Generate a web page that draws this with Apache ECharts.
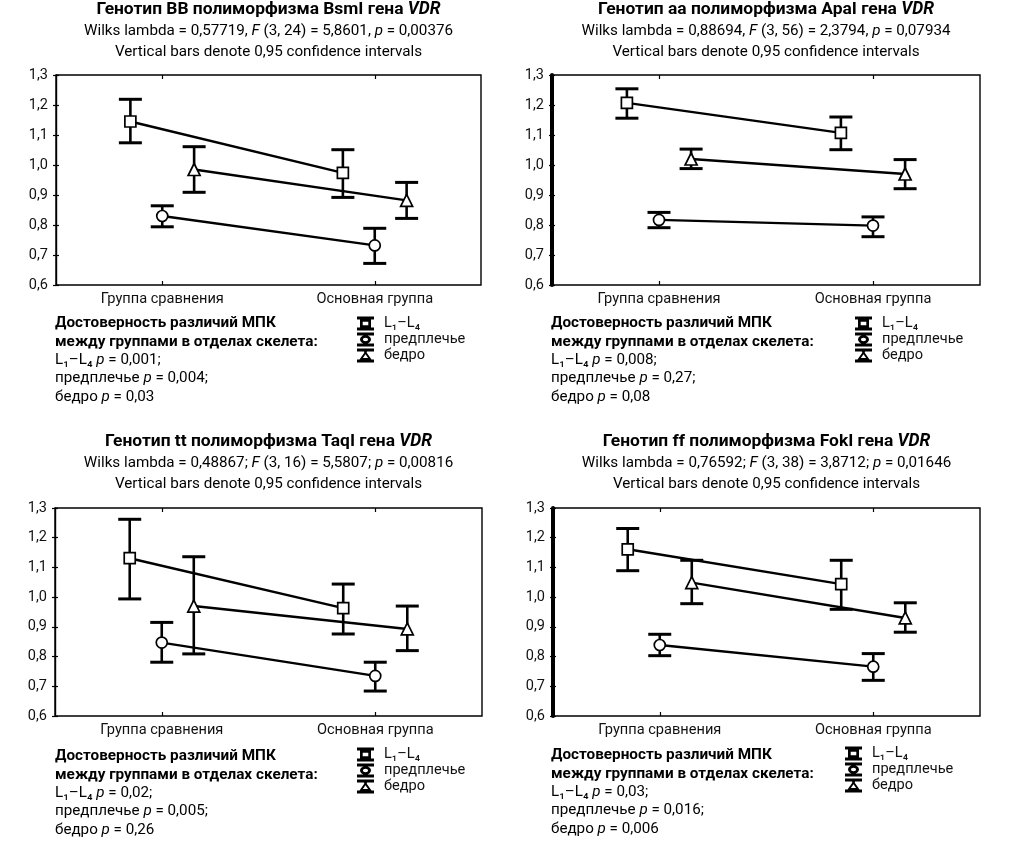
<!DOCTYPE html>
<html>
<head>
<meta charset="utf-8">
<script src="https://cdn.jsdelivr.net/npm/echarts@6/dist/echarts.min.js"></script>
<style>
html,body{margin:0;padding:0;background:#fff;}
#chart{width:1024px;height:843px;}
</style>
</head>
<body>
<div id="chart"></div>
<script>
// ---------- data ----------
const categories = ['Группа сравнения', 'Основная группа'];
const seriesNames = ['L₁–L₄', 'предплечье', 'бедро'];
const yTickLabels = ['0,6', '0,7', '0,8', '0,9', '1,0', '1,1', '1,2', '1,3'];

// order inside each array: [L1–L4, предплечье, бедро], each [Группа сравнения, Основная группа]
const bsmMeans = [[1.145, 0.974], [0.830, 0.732], [0.985, 0.882]];
const bsmLower = [[1.074, 0.892], [0.794, 0.672], [0.909, 0.822]];
const bsmUpper = [[1.219, 1.051], [0.864, 0.789], [1.061, 0.942]];

const apaMeans = [[1.207, 1.107], [0.817, 0.798], [1.020, 0.970]];
const apaLower = [[1.156, 1.051], [0.791, 0.761], [0.988, 0.921]];
const apaUpper = [[1.254, 1.160], [0.842, 0.827], [1.053, 1.018]];

const taqMeans = [[1.131, 0.963], [0.847, 0.735], [0.970, 0.893]];
const taqLower = [[0.994, 0.876], [0.781, 0.684], [0.809, 0.820]];
const taqUpper = [[1.262, 1.044], [0.915, 0.781], [1.136, 0.970]];

const fokMeans = [[1.161, 1.044], [0.839, 0.766], [1.049, 0.930]];
const fokLower = [[1.089, 0.959], [0.803, 0.720], [0.978, 0.882]];
const fokUpper = [[1.231, 1.124], [0.875, 0.810], [1.124, 0.981]];

const titleGenotype = ['BB', 'aa', 'tt', 'ff'];
const titlePolymorphism = ['BsmI', 'ApaI', 'TaqI', 'FokI'];
const wilksLambda = ['0,57719', '0,88694', '0,48867', '0,76592'];
const fDegrees = ['(3, 24)', '(3, 56)', '(3, 16)', '(3, 38)'];
const fValues = ['5,8601', '2,3794', '5,5807', '3,8712'];
const pValues = ['0,00376', '0,07934', '0,00816', '0,01646'];
const statSeparator = [',', ',', ';', ';'];
const pL1L4 = ['0,001;', '0,008;', '0,02;', '0,03;'];
const pForearm = ['0,004;', '0,27;', '0,005;', '0,016;'];
const pHip = ['0,03', '0,08', '0,26', '0,006'];

// ---------- layout ----------
const FONT = 'Roboto, "Noto Sans", sans-serif';
const panels = [
  {means: bsmMeans, lower: bsmLower, upper: bsmUpper, grid: {left: 56, top: 75, width: 425, height: 210}, thickRight: false, titleY: 10, notesX: 55, notesY: 323, legend: {left: 357, top: 316}},
  {means: apaMeans, lower: apaLower, upper: apaUpper, grid: {left: 552, top: 75, width: 428, height: 210}, thickRight: true, titleY: 10, notesX: 551, notesY: 323, legend: {left: 855, top: 316}},
  {means: taqMeans, lower: taqLower, upper: taqUpper, grid: {left: 55, top: 508, width: 427, height: 208}, thickRight: false, titleY: 442, notesX: 55, notesY: 756, legend: {left: 357, top: 747}},
  {means: fokMeans, lower: fokLower, upper: fokUpper, grid: {left: 553, top: 508, width: 427, height: 208}, thickRight: true, titleY: 442, notesX: 551, notesY: 755, legend: {left: 845, top: 746}}
];
const catPos = [1, 3];          // category positions on the hidden 0..4 x scale
const seriesOffset = [-0.3, 0, 0.3];
const symbols = ['rect', 'circle', 'triangle'];
const symbolSizes = [11, 11, 12];

const iconCaps = 'M0.5 0H17.5V3H0.5Z M0.5 11H17.5V14H0.5Z M7.6 3H10.4V4H7.6Z M7.6 10H10.4V11H7.6Z ';
const iconSquare = 'path://' + iconCaps + 'M3.5 3H14.5V11H3.5Z M6.2 5.2V8.8H11.8V5.2Z';
const iconCircle = 'path://' + iconCaps + 'M3.5 7A5.5 4.2 0 1 1 14.5 7A5.5 4.2 0 1 1 3.5 7Z M6.4 7A2.6 1.8 0 1 0 11.6 7A2.6 1.8 0 1 0 6.4 7Z';
const iconTriangle = 'path://' + iconCaps + 'M9 2.6L15 11H3Z M9 5.8L6.4 9.4H11.6Z';
const icons = [iconSquare, iconCircle, iconTriangle];

const grids = [], xAxes = [], yAxes = [], series = [], legends = [], graphics = [];

panels.forEach((p, i) => {
  grids.push(Object.assign({show: true, borderColor: '#000', borderWidth: 1.4, backgroundColor: 'transparent'}, p.grid));
  const xBase = {
    gridIndex: i, type: 'value', min: 0, max: 4,
    axisLine: {show: false}, splitLine: {show: false},
    axisTick: {show: true, inside: true, length: 4, customValues: catPos, lineStyle: {color: '#000', width: 1.2}}
  };
  xAxes.push(Object.assign({}, xBase, {
    position: 'bottom',
    axisLabel: {show: true, customValues: catPos, margin: 7, fontSize: 14.6, color: '#111', fontFamily: FONT,
      formatter: v => { const k = catPos.indexOf(Math.round(v)); return k >= 0 ? categories[k] : ''; }}
  }));
  xAxes.push(Object.assign({}, xBase, {position: 'top', axisLabel: {show: false}}));
  const yBase = {
    gridIndex: i, type: 'value', min: 0.6, max: 1.3, interval: 0.1,
    splitLine: {show: false},
    axisTick: {show: true, inside: true, length: 3, lineStyle: {color: '#000', width: 1.2}}
  };
  yAxes.push(Object.assign({}, yBase, {
    position: 'left', axisLine: {show: false},
    axisLabel: {margin: 8, fontSize: 14.5, color: '#111', fontFamily: FONT,
      formatter: v => yTickLabels[Math.round((v - 0.6) * 10)]}
  }));
  yAxes.push(Object.assign({}, yBase, {
    position: 'right', axisLabel: {show: false},
    axisLine: {show: true, lineStyle: {color: '#000', width: p.thickRight ? 4 : 1.4}}
  }));

  for (let s = 0; s < 3; s++) {
    const errData = catPos.map((c, g) => [c + seriesOffset[s], p.lower[s][g], p.upper[s][g]]);
    series.push({
      type: 'custom', xAxisIndex: 2 * i, yAxisIndex: 2 * i, z: 2, silent: true,
      encode: {x: 0, y: [1, 2]},
      data: errData,
      renderItem: (params, api) => {
        const x = api.value(0);
        const a = api.coord([x, api.value(1)]);
        const b = api.coord([x, api.value(2)]);
        const hw = 11.5;
        return {type: 'group', children: [
          {type: 'line', shape: {x1: a[0], y1: a[1], x2: b[0], y2: b[1]}, style: {stroke: '#000', lineWidth: 2.6}},
          {type: 'line', shape: {x1: b[0] - hw, y1: b[1], x2: b[0] + hw, y2: b[1]}, style: {stroke: '#000', lineWidth: 3}},
          {type: 'line', shape: {x1: a[0] - hw, y1: a[1], x2: a[0] + hw, y2: a[1]}, style: {stroke: '#000', lineWidth: 3}}
        ]};
      }
    });
    series.push({
      type: 'line', name: seriesNames[s], xAxisIndex: 2 * i, yAxisIndex: 2 * i, z: 3, silent: true,
      data: catPos.map((c, g) => [c + seriesOffset[s], p.means[s][g]]),
      symbol: symbols[s], symbolSize: symbolSizes[s], showSymbol: true,
      lineStyle: {color: '#000', width: 2.4},
      itemStyle: {color: '#fff', borderColor: '#000', borderWidth: 1.7}
    });
  }

  legends.push({
    orient: 'vertical', left: p.legend.left, top: p.legend.top, padding: 0,
    itemWidth: 19, itemHeight: 14, itemGap: 1, selectedMode: false,
    textStyle: {fontSize: 14.6, color: '#111', fontFamily: FONT, padding: [0, 0, 0, 4]},
    itemStyle: {color: '#000', borderWidth: 0},
    data: seriesNames.map((n, k) => ({name: n, icon: icons[k]}))
  });

  const cx = p.grid.left + p.grid.width / 2;
  const rich = {
    b: {fontFamily: FONT, fontSize: 17.4, fontWeight: 'bold', fill: '#000'},
    bi: {fontFamily: FONT, fontSize: 17.4, fontWeight: 'bold', fontStyle: 'italic', fill: '#000'},
    n: {fontFamily: FONT, fontSize: 15.2, fill: '#000'},
    i: {fontFamily: FONT, fontSize: 15.2, fontStyle: 'italic', fill: '#000'},
    nb: {fontFamily: FONT, fontSize: 15.3, fontWeight: 'bold', fill: '#000'}
  };
  const addText = (x, y, text, align) => graphics.push({
    type: 'text', x: x, y: y, silent: true,
    style: {text: text, rich: rich, align: align, verticalAlign: 'middle', fontFamily: FONT, fontSize: 15, fill: '#000'}
  });
  addText(cx, p.titleY, `{b|Генотип ${titleGenotype[i]} полиморфизма ${titlePolymorphism[i]} гена }{bi|VDR}`, 'center');
  addText(cx, p.titleY + 21, `{n|Wilks lambda = ${wilksLambda[i]}${statSeparator[i]} }{i|F}{n| ${fDegrees[i]} = ${fValues[i]}${statSeparator[i]} }{i|p}{n| = ${pValues[i]}}`, 'center');
  addText(cx, p.titleY + 42, '{n|Vertical bars denote 0,95 confidence intervals}', 'center');

  const ny = p.notesY;
  addText(p.notesX, ny, '{nb|Достоверность различий МПК}', 'left');
  addText(p.notesX, ny + 19, '{nb|между группами в отделах скелета:}', 'left');
  addText(p.notesX, ny + 37, `{n|L₁–L₄ }{i|p}{n| = ${pL1L4[i]}}`, 'left');
  addText(p.notesX, ny + 55, `{n|предплечье }{i|p}{n| = ${pForearm[i]}}`, 'left');
  addText(p.notesX, ny + 74, `{n|бедро }{i|p}{n| = ${pHip[i]}}`, 'left');
});

const chart = echarts.init(document.getElementById('chart'), null, {renderer: 'canvas'});
chart.setOption({
  animation: false,
  backgroundColor: '#fff',
  grid: grids,
  xAxis: xAxes,
  yAxis: yAxes,
  legend: legends,
  series: series,
  graphic: graphics
});
</script>
</body>
</html>
